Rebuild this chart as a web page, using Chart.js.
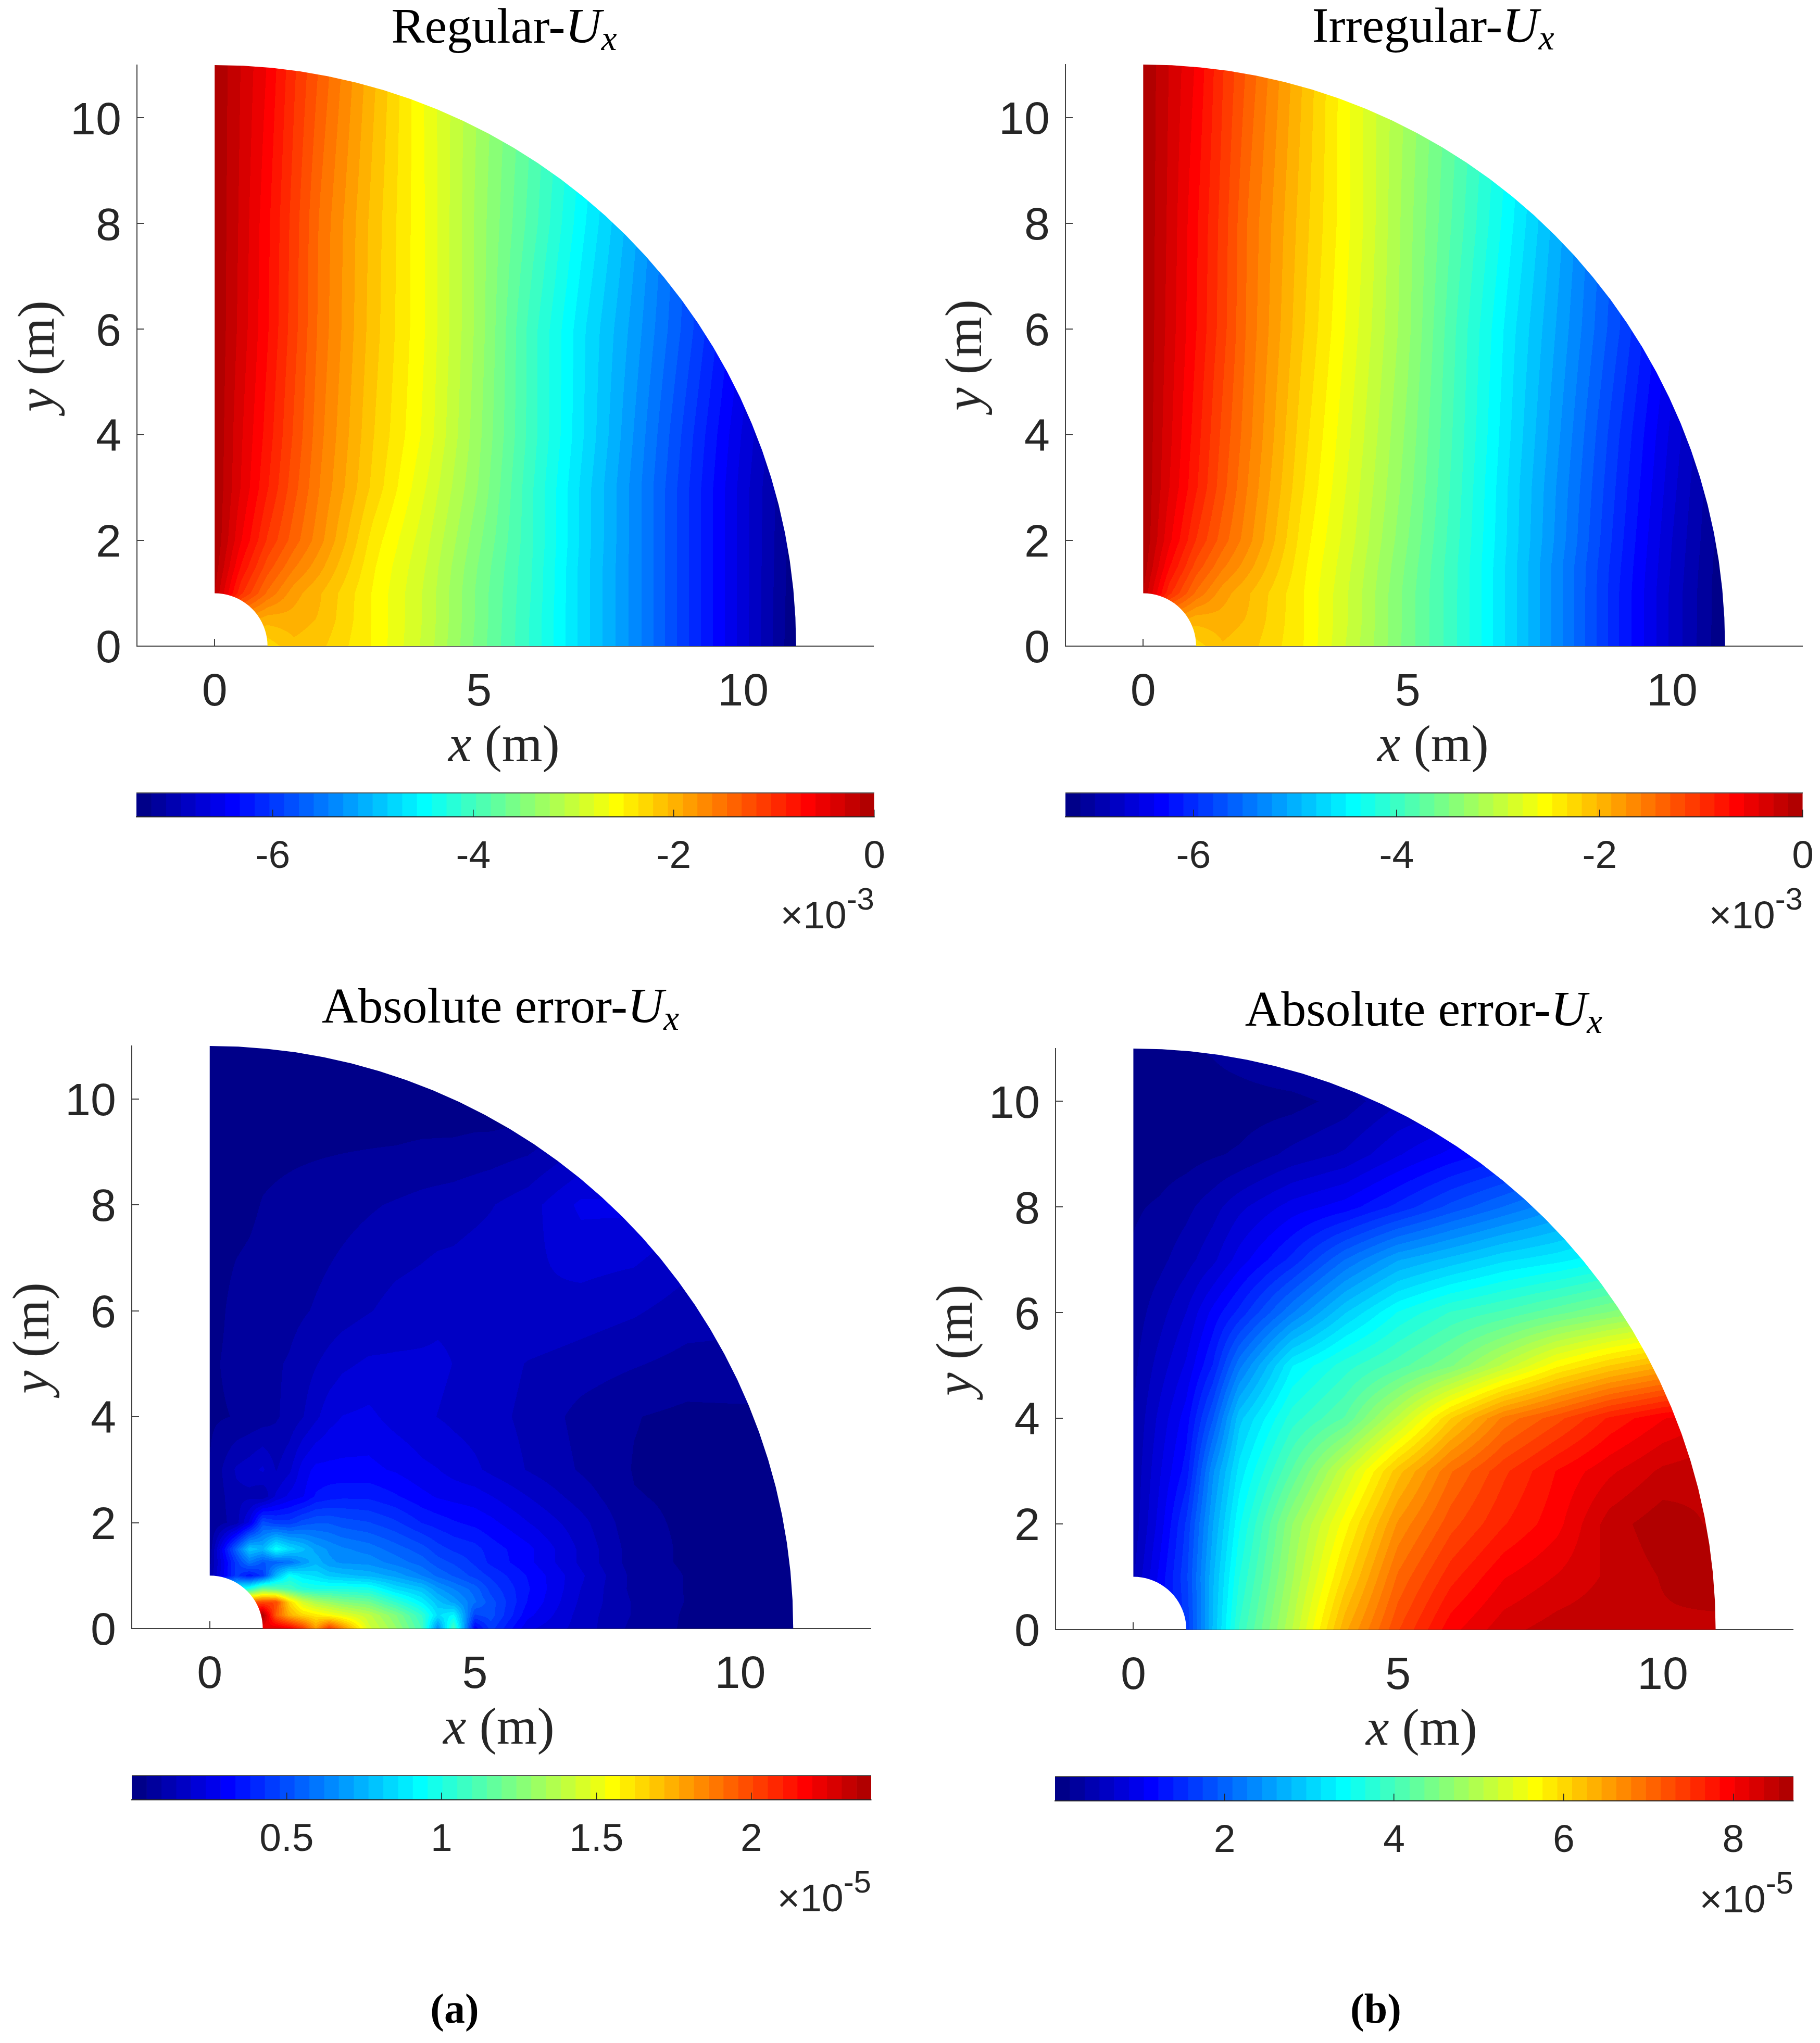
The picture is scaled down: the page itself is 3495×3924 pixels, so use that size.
<!DOCTYPE html>
<html>
<head>
<meta charset="utf-8">
<title>Absolute error of Ux</title>
<script src="https://cdn.jsdelivr.net/npm/chart.js@4"></script>
<style>
  html, body { margin: 0; padding: 0; background: #fff; }
  #page { position: relative; width: 3495px; height: 3924px; overflow: hidden; background: #fff; }
  #page canvas { position: absolute; }
  .txt { position: absolute; white-space: nowrap; line-height: 1em; color: #262626; }
  .serif { font-family: "Liberation Serif", serif; }
  .sans { font-family: "Liberation Sans", sans-serif; }
</style>
</head>
<body>
<div id="page"></div>
<script>
// Tick labels
const xTicks = [0, 5, 10];
const yTicks = [0, 2, 4, 6, 8, 10];
const regularBarTicks = [-6, -4, -2, 0];
const irregularBarTicks = [-6, -4, -2, 0];
const errorABarTicks = [0.5, 1, 1.5, 2];
const errorBBarTicks = [2, 4, 6, 8];

// Colour bar ranges
const regularRange = [-7.36, 0];
const irregularRange = [-7.26, 0];
const errorARange = [0, 2.387];
const errorBRange = [0, 8.71];

// Sample positions in metres for the top row
const uxXs = [0, 0.5, 1, 1.5, 2, 3, 4, 5, 6, 7, 8, 9, 10, 11];
const uxYs = [0, 0.5, 1, 1.5, 2, 3, 4, 6, 8, 11];

// Regular Ux, x 10^-3, one row per uxYs value
const regularValues = [
  [-2.6, -2.5, -2.3, -2.1, -2.17, -2.52, -3, -3.6, -4.15, -4.8, -5.4, -6.05, -6.7, -7.36],
  [-1, -1.8, -2, -1.98, -2.08, -2.52, -2.98, -3.58, -4.15, -4.8, -5.4, -6.05, -6.7, -7.35],
  [-0.15, -1, -1.5, -1.85, -2.05, -2.52, -2.98, -3.58, -4.13, -4.8, -5.4, -6.05, -6.7, -7.34],
  [-0.05, -0.75, -1.25, -1.6, -1.87, -2.48, -2.95, -3.55, -4.12, -4.8, -5.4, -6.05, -6.7, -7.33],
  [0, -0.58, -1.05, -1.4, -1.72, -2.42, -2.9, -3.5, -4.1, -4.78, -5.4, -6.05, -6.7, -7.32],
  [0, -0.45, -0.87, -1.27, -1.63, -2.25, -2.8, -3.4, -4.1, -4.78, -5.4, -6.05, -6.7, -7.3],
  [0, -0.42, -0.8, -1.2, -1.58, -2.2, -2.7, -3.35, -4.05, -4.72, -5.35, -6, -6.65, -7.25],
  [0, -0.35, -0.72, -1.12, -1.52, -2.14, -2.66, -3.3, -4.05, -4.7, -5.25, -5.85, -6.5, -7.1],
  [0, -0.33, -0.7, -1.1, -1.5, -2.12, -2.66, -3.3, -3.9, -4.55, -5.15, -5.8, -6.4, -7],
  [0, -0.3, -0.6, -1, -1.35, -2.02, -2.68, -3.25, -3.8, -4.4, -5, -5.6, -6.2, -6.8]
];

// Irregular Ux, x 10^-3
const irregularValues = [
  [-2.55, -2.45, -2.25, -2.05, -2.12, -2.45, -3, -3.55, -4.1, -4.75, -5.42, -6.1, -6.72, -7.26],
  [-1, -1.78, -1.97, -1.95, -2.05, -2.45, -2.97, -3.55, -4.1, -4.75, -5.42, -6.1, -6.72, -7.25],
  [-0.15, -0.98, -1.48, -1.82, -2.02, -2.45, -2.97, -3.55, -4.1, -4.75, -5.42, -6.1, -6.72, -7.25],
  [-0.05, -0.72, -1.22, -1.57, -1.84, -2.42, -2.94, -3.52, -4.1, -4.75, -5.42, -6.08, -6.7, -7.24],
  [0, -0.55, -1.02, -1.38, -1.7, -2.38, -2.9, -3.48, -4.08, -4.73, -5.38, -6.05, -6.68, -7.22],
  [0, -0.44, -0.85, -1.25, -1.62, -2.3, -2.85, -3.42, -4.05, -4.72, -5.35, -6, -6.63, -7.2],
  [0, -0.4, -0.8, -1.2, -1.56, -2.25, -2.8, -3.38, -4.02, -4.68, -5.3, -5.95, -6.58, -7.15],
  [0, -0.35, -0.72, -1.1, -1.5, -2.15, -2.72, -3.3, -3.98, -4.62, -5.2, -5.8, -6.45, -7],
  [0, -0.33, -0.7, -1.08, -1.48, -2.1, -2.66, -3.28, -3.88, -4.5, -5.12, -5.75, -6.35, -7],
  [0, -0.3, -0.6, -1, -1.35, -2.02, -2.68, -3.22, -3.78, -4.38, -5, -5.6, -6.2, -6.8]
];

// Absolute error (a), x 10^-5, finer near the hole where it is noisy
const errorAXs = [0, 0.5, 0.75, 1, 1.25, 1.5, 1.75, 2, 2.25, 2.5, 3, 3.5, 4, 4.3, 4.6, 5, 5.3, 6, 7, 8, 9, 11];
const errorAYs = [0, 0.25, 0.5, 0.75, 1, 1.25, 1.5, 2, 2.5, 3, 4, 5, 6, 8, 9.5, 11];
const errorAValues = [
  [2.3, 2.3, 2.3, 2.2, 2.25, 2.2, 2.05, 1.8, 2.05, 1.85, 1.45, 1.3, 1.1, 0.65, 1.1, 0.3, 0.45, 0.25, 0.17, 0.08, 0.04, 0.04],
  [2.3, 2.3, 2.3, 2.38, 1.95, 1.75, 1.65, 1.6, 1.55, 1.5, 1.4, 1.25, 1.05, 0.85, 0.92, 0.47, 0.5, 0.3, 0.17, 0.09, 0.04, 0.04],
  [1.9, 1.9, 1.95, 2, 2, 1.65, 1.45, 1.35, 1.3, 1.25, 1.2, 1.05, 0.9, 0.78, 0.7, 0.58, 0.5, 0.33, 0.18, 0.09, 0.045, 0.04],
  [0.9, 0.9, 1, 1.2, 1.15, 1.1, 1.02, 1, 1, 1, 0.98, 0.85, 0.78, 0.68, 0.62, 0.55, 0.46, 0.34, 0.19, 0.08, 0.045, 0.04],
  [0.1, 0.45, 0.35, 0.45, 0.75, 0.95, 0.88, 0.85, 0.8, 0.78, 0.75, 0.7, 0.62, 0.56, 0.52, 0.46, 0.42, 0.33, 0.2, 0.08, 0.045, 0.04],
  [0.08, 0.45, 0.6, 0.52, 0.55, 0.58, 0.68, 0.75, 0.68, 0.66, 0.65, 0.6, 0.55, 0.5, 0.47, 0.42, 0.37, 0.3, 0.18, 0.07, 0.04, 0.04],
  [0.06, 0.55, 0.8, 0.75, 0.95, 0.85, 0.78, 0.7, 0.66, 0.63, 0.6, 0.55, 0.5, 0.45, 0.42, 0.4, 0.36, 0.3, 0.18, 0.07, 0.04, 0.04],
  [0.05, 0.12, 0.25, 0.5, 0.45, 0.45, 0.5, 0.52, 0.52, 0.5, 0.48, 0.44, 0.38, 0.36, 0.34, 0.32, 0.3, 0.24, 0.16, 0.06, 0.04, 0.04],
  [0.05, 0.13, 0.13, 0.1, 0.2, 0.25, 0.28, 0.34, 0.36, 0.37, 0.37, 0.34, 0.3, 0.28, 0.27, 0.26, 0.24, 0.19, 0.12, 0.05, 0.04, 0.04],
  [0.05, 0.15, 0.17, 0.2, 0.14, 0.18, 0.26, 0.3, 0.3, 0.3, 0.3, 0.28, 0.25, 0.24, 0.22, 0.2, 0.18, 0.14, 0.09, 0.045, 0.035, 0.04],
  [0.04, 0.05, 0.06, 0.07, 0.09, 0.11, 0.14, 0.18, 0.22, 0.24, 0.25, 0.22, 0.2, 0.19, 0.18, 0.17, 0.16, 0.13, 0.08, 0.05, 0.035, 0.04],
  [0.04, 0.06, 0.07, 0.08, 0.09, 0.1, 0.12, 0.14, 0.16, 0.18, 0.2, 0.2, 0.2, 0.2, 0.19, 0.18, 0.17, 0.14, 0.12, 0.1, 0.08, 0.08],
  [0.03, 0.06, 0.065, 0.07, 0.075, 0.08, 0.09, 0.1, 0.11, 0.12, 0.14, 0.16, 0.17, 0.18, 0.18, 0.19, 0.19, 0.19, 0.17, 0.15, 0.12, 0.1],
  [0.03, 0.035, 0.04, 0.05, 0.055, 0.06, 0.065, 0.07, 0.075, 0.08, 0.09, 0.1, 0.11, 0.115, 0.12, 0.13, 0.14, 0.17, 0.25, 0.25, 0.2, 0.15],
  [0.03, 0.03, 0.03, 0.03, 0.03, 0.03, 0.03, 0.03, 0.03, 0.03, 0.03, 0.03, 0.035, 0.035, 0.035, 0.04, 0.04, 0.05, 0.1, 0.1, 0.1, 0.1],
  [0.03, 0.03, 0.03, 0.03, 0.03, 0.03, 0.03, 0.03, 0.03, 0.03, 0.03, 0.03, 0.03, 0.03, 0.03, 0.03, 0.03, 0.03, 0.05, 0.05, 0.05, 0.05]
];

// Absolute error (b), x 10^-5
const errorBXs = [0, 0.5, 1, 1.5, 2, 3, 4, 5, 6, 7, 8, 9, 10, 11];
const errorBYs = [0, 1, 2, 3, 4, 5, 6, 7, 8, 9, 10, 11];
const errorBValues = [
  [1, 1.2, 1.6, 2.8, 3.85, 5.05, 6.4, 7.3, 7.95, 8.3, 8.45, 8.5, 8.5, 8.45],
  [0.5, 1.1, 1.7, 2.75, 3.65, 4.85, 6, 7, 7.6, 8, 8.2, 8.4, 8.55, 8.7],
  [0.4, 0.95, 1.6, 2.6, 3.45, 4.7, 5.67, 6.65, 7.25, 7.65, 7.95, 8.45, 8.65, 8.5],
  [0.38, 0.85, 1.3, 2.4, 3.2, 4.2, 5.2, 6.2, 6.95, 7.45, 7.85, 8.15, 8.4, 8.5],
  [0.35, 0.75, 1.13, 1.9, 2.9, 3.75, 4.2, 5.1, 6.1, 6.85, 7.25, 7.7, 8, 8.2],
  [0.3, 0.6, 0.9, 1.4, 2.2, 3.3, 3.75, 4.1, 4.5, 5.1, 5.7, 6.1, 6.4, 6.6],
  [0.25, 0.45, 0.7, 1.1, 1.45, 2.25, 2.95, 3.5, 3.85, 4.05, 4.3, 4.55, 4.8, 5],
  [0.2, 0.3, 0.45, 0.65, 0.95, 1.45, 2.1, 2.6, 2.85, 3.1, 3.25, 3.45, 3.7, 3.9],
  [0.15, 0.2, 0.3, 0.45, 0.65, 0.95, 1.13, 1.45, 1.8, 2.1, 2.4, 2.8, 3.2, 3.6],
  [0.06, 0.08, 0.1, 0.15, 0.2, 0.4, 0.55, 0.85, 1.1, 1.3, 1.5, 1.7, 1.9, 2.1],
  [0.04, 0.04, 0.05, 0.06, 0.06, 0.1, 0.25, 0.5, 0.6, 0.7, 0.8, 0.9, 1, 1.1],
  [0.1, 0.12, 0.15, 0.2, 0.3, 0.5, 0.6, 0.7, 0.8, 0.9, 1, 1.1, 1.2, 1.3]
];

// The plate: quarter ring between these radii
const holeRadius = 1;
const outerRadius = 11;
const levelCount = 50;

// MATLAB jet(m)
function jetColors(m) {
  const n = Math.ceil(m / 4);
  const u = [];
  for (let i = 1; i <= n; i++) u.push(i / n);
  for (let i = 1; i < n; i++) u.push(1);
  for (let i = n; i >= 1; i--) u.push(i / n);
  const start = Math.ceil(n / 2) - (m % 4 === 1 ? 1 : 0);
  const out = [];
  for (let i = 0; i < m; i++) out.push([0, 0, 0]);
  u.forEach((val, k) => {
    const g = start + k + 1;
    const r = g + n;
    const b = g - n;
    if (r <= m) out[r - 1][0] = val;
    if (g <= m) out[g - 1][1] = val;
    if (b >= 1) out[b - 1][2] = val;
  });
  return out.map(c => c.map(v => Math.round(v * 255)));
}
const jet = jetColors(levelCount);
const cssColor = c => `rgb(${c[0]},${c[1]},${c[2]})`;

function findCell(list, v) {
  let i = 0;
  while (i < list.length - 2 && v > list[i + 1]) i++;
  return i;
}

// value at a point between the table samples, same thing a mesh shader does
function tableValue(table, x, y) {
  const i = findCell(table.xs, x);
  const j = findCell(table.ys, y);
  const fx = Math.min(1, Math.max(0, (x - table.xs[i]) / (table.xs[i + 1] - table.xs[i])));
  const fy = Math.min(1, Math.max(0, (y - table.ys[j]) / (table.ys[j + 1] - table.ys[j])));
  const v = table.values;
  return (1 - fy) * ((1 - fx) * v[j][i] + fx * v[j][i + 1]) + fy * ((1 - fx) * v[j + 1][i] + fx * v[j + 1][i + 1]);
}

// Draws the filled contour bands from the dataset's table through the chart scales
const contourPlugin = {
  id: 'contourBands',
  afterDatasetsDraw(chart) {
    const ds = chart.data.datasets[0];
    const { x: sx, y: sy } = chart.scales;
    const area = chart.chartArea;
    const w = Math.ceil(area.right - area.left);
    const h = Math.ceil(area.bottom - area.top);
    const off = document.createElement('canvas');
    off.width = w;
    off.height = h;
    const offCtx = off.getContext('2d');
    const img = offCtx.createImageData(w, h);
    const [lo, hi] = ds.range;
    for (let py = 0; py < h; py++) {
      const y = sy.getValueForPixel(area.top + py + 0.5);
      for (let px = 0; px < w; px++) {
        const x = sx.getValueForPixel(area.left + px + 0.5);
        const val = tableValue(ds.table, x, y);
        let band = Math.floor((val - lo) / (hi - lo) * levelCount);
        band = Math.max(0, Math.min(levelCount - 1, band));
        const c = jet[band];
        const k = (py * w + px) * 4;
        img.data[k] = c[0];
        img.data[k + 1] = c[1];
        img.data[k + 2] = c[2];
        img.data[k + 3] = 255;
      }
    }
    offCtx.putImageData(img, 0, 0);

    const ctx = chart.ctx;
    ctx.save();
    ctx.beginPath();
    const outerSteps = 32;
    const holeSteps = 20;
    for (let i = 0; i <= outerSteps; i++) {
      const a = i / outerSteps * Math.PI / 2;
      ctx.lineTo(sx.getPixelForValue(outerRadius * Math.cos(a)), sy.getPixelForValue(outerRadius * Math.sin(a)));
    }
    for (let i = holeSteps; i >= 0; i--) {
      const a = i / holeSteps * Math.PI / 2;
      ctx.lineTo(sx.getPixelForValue(holeRadius * Math.cos(a)), sy.getPixelForValue(holeRadius * Math.sin(a)));
    }
    ctx.closePath();
    ctx.clip();
    ctx.drawImage(off, area.left, area.top);
    ctx.restore();
  }
};

// Thin grey line along the top of a colour bar
const barFramePlugin = {
  id: 'barFrame',
  afterDraw(chart) {
    const a = chart.chartArea;
    const ctx = chart.ctx;
    ctx.save();
    ctx.strokeStyle = '#555';
    ctx.lineWidth = 2;
    ctx.beginPath();
    ctx.moveTo(a.left, a.top);
    ctx.lineTo(a.right, a.top);
    ctx.stroke();
    ctx.restore();
  }
};

const page = document.getElementById('page');

function addCanvas(left, top, width, height) {
  const c = document.createElement('canvas');
  c.width = width;
  c.height = height;
  c.style.left = left + 'px';
  c.style.top = top + 'px';
  c.style.width = width + 'px';
  c.style.height = height + 'px';
  page.appendChild(c);
  return c;
}

// Baseline placed text; align is the translateX used
function addText(html, x, baseline, size, cls, align) {
  const d = document.createElement('div');
  d.className = 'txt ' + cls;
  d.innerHTML = html;
  d.style.left = x + 'px';
  d.style.top = (baseline - 0.8375 * size) + 'px';
  d.style.fontSize = size + 'px';
  d.style.transform = `translateX(${align || '-50%'})`;
  page.appendChild(d);
  return d;
}

function fixedScale(prop, size) {
  return scale => {
    scale[prop] = size;
    scale.paddingLeft = scale.paddingRight = scale.paddingTop = scale.paddingBottom = 0;
  };
}

const tickOpts = list => scale => { scale.ticks = list.map(v => ({ value: v })); };

function contourChart(p) {
  const gutter = 260, foot = 150, head = 70, side = 60;
  const canvas = addCanvas(p.left - gutter, p.top - head, gutter + p.right - p.left + side, head + p.bottom - p.top + foot);
  const points = [];
  p.table.ys.forEach((y, j) => p.table.xs.forEach((x, i) => points.push({ x: x, y: y, v: p.table.values[j][i] })));
  new Chart(canvas, {
    type: 'scatter',
    data: { datasets: [{ data: points, pointRadius: 0, table: p.table, range: p.range }] },
    plugins: [contourPlugin],
    options: {
      responsive: false,
      animation: false,
      devicePixelRatio: 1,
      layout: { padding: { top: head, right: side, left: 0, bottom: 0 } },
      plugins: { legend: { display: false }, tooltip: { enabled: false } },
      scales: {
        x: {
          type: 'linear', min: -1.47, max: 12.46,
          afterBuildTicks: tickOpts(xTicks),
          afterFit: fixedScale('height', foot),
          border: { color: '#404040', width: 2 },
          grid: { drawOnChartArea: false, tickLength: -14, color: '#404040', lineWidth: 2 },
          ticks: { autoSkip: false, maxRotation: 0, padding: 51, color: '#262626', font: { family: 'Liberation Sans', size: 88 }, callback: v => String(v) }
        },
        y: {
          type: 'linear', min: 0, max: 11,
          afterBuildTicks: tickOpts(yTicks),
          afterFit: fixedScale('width', gutter),
          border: { color: '#404040', width: 2 },
          grid: { drawOnChartArea: false, tickLength: -14, color: '#404040', lineWidth: 2 },
          ticks: { autoSkip: false, padding: 44, labelOffset: 7, color: '#262626', font: { family: 'Liberation Sans', size: 88 }, callback: v => String(v) }
        }
      }
    }
  });
}

function colorBar(p) {
  const side = 60, head = 10, foot = 120;
  const canvas = addCanvas(p.left - side, p.top - head, p.right - p.left + 2 * side, head + p.bottom - p.top + foot);
  const [lo, hi] = p.range;
  const datasets = jet.map((c, i) => ({
    data: [[lo + (hi - lo) * i / levelCount, lo + (hi - lo) * (i + 1) / levelCount]],
    backgroundColor: cssColor(c),
    barPercentage: 1,
    categoryPercentage: 1,
    grouped: false
  }));
  new Chart(canvas, {
    type: 'bar',
    data: { labels: [''], datasets: datasets },
    plugins: [barFramePlugin],
    options: {
      indexAxis: 'y',
      responsive: false,
      animation: false,
      devicePixelRatio: 1,
      layout: { padding: { top: head, left: side, right: side, bottom: 0 } },
      plugins: { legend: { display: false }, tooltip: { enabled: false } },
      scales: {
        x: {
          type: 'linear', min: lo, max: hi,
          afterBuildTicks: tickOpts(p.ticks),
          afterFit: fixedScale('height', foot),
          border: { color: '#262626', width: 2, z: 2 },
          grid: { drawOnChartArea: false, tickLength: -14, color: '#262626', lineWidth: 1.5, z: 2 },
          ticks: { autoSkip: false, maxRotation: 0, padding: 46, color: '#262626', font: { family: 'Liberation Sans', size: 75 }, callback: v => String(v) }
        },
        y: { display: false }
      }
    }
  });
  addText(`×10<span style="position:relative;top:-36px;font-size:60px">${p.exponent}</span>`, p.right, p.bottom + 214, 75, 'sans', '-100%');
}

function panelText(p) {
  const t = addText(`${p.title}-<i>U</i><i style="font-size:.7em;position:relative;top:.22em">x</i>`, p.titleX, p.titleBase, 96, 'serif');
  t.style.color = '#000';
  addText('<i>x</i> (m)', p.xLabelX, p.bottom + 222, 100, 'serif');
  const y = document.createElement('div');
  y.className = 'txt serif';
  y.innerHTML = '<i>y</i> (m)';
  y.style.fontSize = '100px';
  y.style.left = p.yLabelX + 'px';
  y.style.top = p.yLabelY + 'px';
  y.style.transform = 'translate(-50%,-50%) rotate(-90deg)';
  page.appendChild(y);
}

const panels = [
  { left: 263, right: 1677, top: 125, bottom: 1241, table: { xs: uxXs, ys: uxYs, values: regularValues }, range: regularRange,
    title: 'Regular', titleX: 968, titleBase: 82, xLabelX: 968, yLabelX: 70, yLabelY: 684 },
  { left: 2046, right: 3461, top: 124, bottom: 1241, table: { xs: uxXs, ys: uxYs, values: irregularValues }, range: irregularRange,
    title: 'Irregular', titleX: 2752, titleBase: 81, xLabelX: 2752, yLabelX: 1851, yLabelY: 682 },
  { left: 253, right: 1672, top: 2009, bottom: 3128, table: { xs: errorAXs, ys: errorAYs, values: errorAValues }, range: errorARange,
    title: 'Absolute error', titleX: 961, titleBase: 1964, xLabelX: 958, yLabelX: 60, yLabelY: 2570 },
  { left: 2027, right: 3443, top: 2014, bottom: 3130, table: { xs: errorBXs, ys: errorBYs, values: errorBValues }, range: errorBRange,
    title: 'Absolute error', titleX: 2734, titleBase: 1970, xLabelX: 2730, yLabelX: 1833, yLabelY: 2574 }
];

const bars = [
  { left: 262, right: 1679, top: 1523, bottom: 1569, range: regularRange, ticks: regularBarTicks, exponent: '-3' },
  { left: 2046, right: 3462, top: 1523, bottom: 1569, range: irregularRange, ticks: irregularBarTicks, exponent: '-3' },
  { left: 253, right: 1673, top: 3410, bottom: 3457, range: errorARange, ticks: errorABarTicks, exponent: '-5' },
  { left: 2026, right: 3444, top: 3412, bottom: 3459, range: errorBRange, ticks: errorBBarTicks, exponent: '-5' }
];

panels.forEach(p => { contourChart(p); panelText(p); });
bars.forEach(colorBar);

addText('<b>(a)</b>', 873, 3885, 80, 'serif').style.color = '#000';
addText('<b>(b)</b>', 2642, 3885, 80, 'serif').style.color = '#000';
</script>
</body>
</html>
